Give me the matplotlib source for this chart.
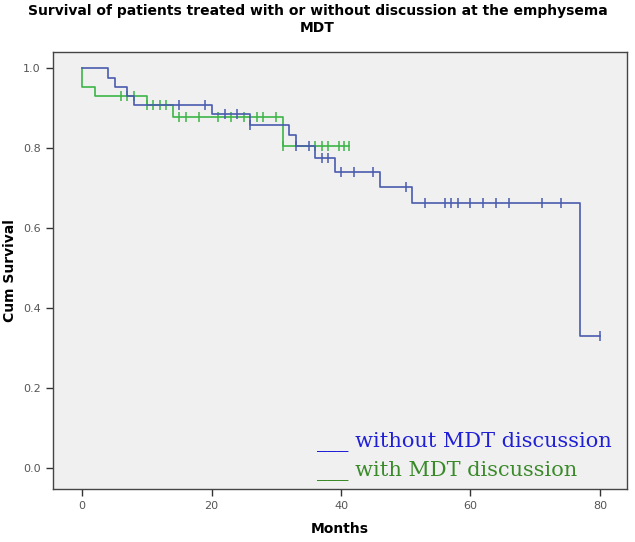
import numpy as np
import matplotlib
matplotlib.use('Agg')
import matplotlib.pyplot as plt

# Kaplan-Meier step curves (months, cumulative survival)
blue_times = [0, 4, 5, 7, 8, 20, 26, 32, 33, 36, 39, 46, 51, 77, 80]
blue_surv = [1.0, 0.976, 0.953, 0.930, 0.907, 0.884, 0.858, 0.833, 0.806,
             0.774, 0.741, 0.703, 0.662, 0.331, 0.331]
blue_censored = [15, 19, 22, 24, 26, 33, 35, 37, 38, 40, 42, 45, 50, 53, 56,
                 57, 58, 60, 62, 64, 66, 71, 74, 80]

green_times = [0, 0, 2, 10, 14, 31, 41.3]
green_surv = [1.0, 0.953, 0.931, 0.907, 0.878, 0.806, 0.806]
green_censored = [6, 7, 8, 10, 11, 12, 13, 15, 16, 18, 21, 23, 25, 27, 28,
                  30, 31, 36, 37, 38, 39.7, 40.5, 41.3]

x_ticks = [0, 20, 40, 60, 80]
y_ticks = [0.0, 0.2, 0.4, 0.6, 0.8, 1.0]

title = 'Survival of patients treated with or without discussion at the emphysema\nMDT'
legend_labels = ['___ without MDT discussion', '___ with MDT discussion']

BLUE = '#4a5cae'
GREEN = '#3cb447'


def level_at(times, surv, t):
    """ value of the step curve just after time t """
    idx = np.searchsorted(times, t, side='right') - 1
    return np.asarray(surv)[idx]


def add_curve(ax, times, surv, censored, color):
    ax.plot(times, surv, drawstyle='steps-post', color=color, linewidth=1.2)
    ax.plot(censored, level_at(times, surv, censored), linestyle='none',
            marker='|', markersize=7, markeredgewidth=1.1, color=color)
    return ax


fig = plt.figure(figsize=(6.35, 5.42), dpi=100)
ax = fig.add_axes([0.0835, 0.098, 0.904, 0.806])
ax.set_facecolor('#f0f0f0')

ax = add_curve(ax, green_times, green_surv, green_censored, GREEN)
ax = add_curve(ax, blue_times, blue_surv, blue_censored, BLUE)

ax.set_xlim(-4.5, 84.2)
ax.set_ylim(-0.0525, 1.04)
ax.set_xticks(x_ticks)
ax.set_yticks(y_ticks)
ax.set_yticklabels([f'{v:.1f}' for v in y_ticks])
ax.tick_params(direction='out', length=5, width=1, color='#333333',
               labelsize=8, labelcolor='#555555', pad=4)
for sp in ax.spines.values():
    sp.set_color('#444444')
    sp.set_linewidth(1.0)

ax.set_xlabel('Months', fontsize=10, fontweight='bold', labelpad=8)
ax.set_ylabel('Cum Survival', fontsize=10, fontweight='bold')
ax.yaxis.set_label_coords(-0.062, 0.5)

fig.text(0.5, 0.993, title, ha='center', va='top', fontsize=10,
         fontweight='bold', linespacing=1.25)

ax.text(0.46, 0.095, legend_labels[0], transform=ax.transAxes, color='#1f1fd6',
        fontsize=15, family='DejaVu Serif', va='baseline')
ax.text(0.46, 0.03, legend_labels[1], transform=ax.transAxes, color='#3a8a2a',
        fontsize=15, family='DejaVu Serif', va='baseline')

fig.savefig('out.png', dpi=100, facecolor='white')
